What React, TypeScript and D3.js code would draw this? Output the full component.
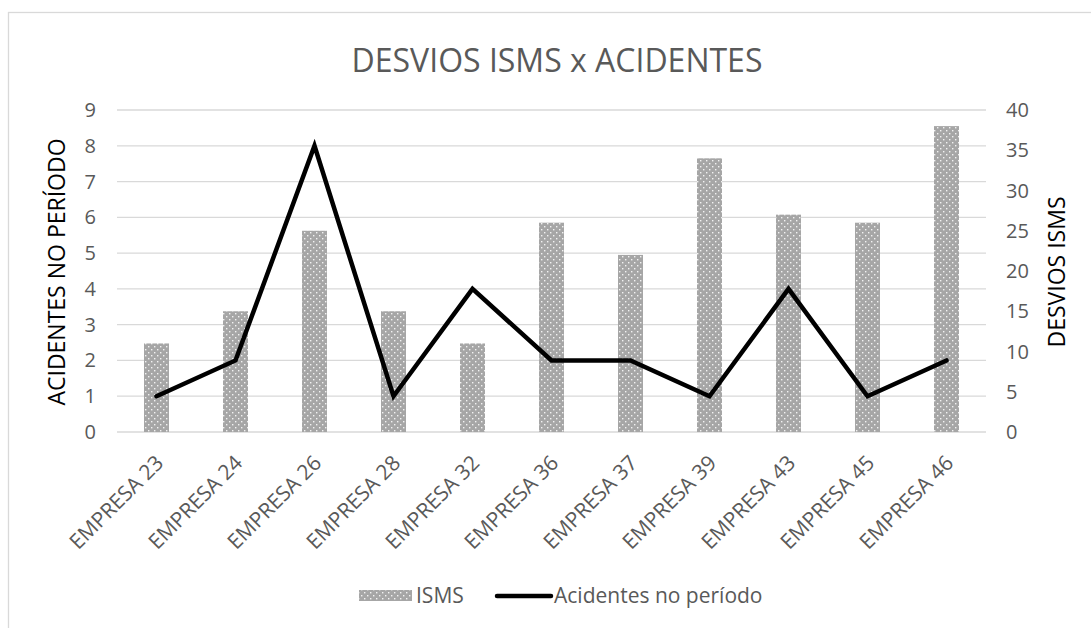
import React, { useRef, useEffect } from 'react';
import * as d3 from 'd3';

const categories = [
  'EMPRESA 23', 'EMPRESA 24', 'EMPRESA 26', 'EMPRESA 28', 'EMPRESA 32', 'EMPRESA 36',
  'EMPRESA 37', 'EMPRESA 39', 'EMPRESA 43', 'EMPRESA 45', 'EMPRESA 46',
];
const ismsValues = [11, 15, 25, 15, 11, 26, 22, 34, 27, 26, 38];
const acidentesValues = [1, 2, 8, 1, 4, 2, 2, 1, 4, 1, 2];
const leftTicks = [0, 1, 2, 3, 4, 5, 6, 7, 8, 9];
const rightTicks = [0, 5, 10, 15, 20, 25, 30, 35, 40];

const W = 1091;
const H = 628;
const plot = { left: 117, right: 986, top: 110, bottom: 432 };
const textColor = '#595959';
const gridColor = '#d9d9d9';
const font = "'Open Sans', sans-serif";

const draw = (el: SVGGElement) => {
  const g = d3.select(el);
  g.selectAll('*').remove();

  const x = d3.scaleBand<string>().domain(categories).range([plot.left, plot.right]);
  const yLeft = d3.scaleLinear().domain([0, 9]).range([plot.bottom, plot.top]);
  const yRight = d3.scaleLinear().domain([0, 40]).range([plot.bottom, plot.top]);
  const barWidth = 25;

  // grid
  g.append('g').selectAll('line').data(leftTicks).join('line')
    .attr('x1', plot.left).attr('x2', plot.right)
    .attr('y1', d => yLeft(d)).attr('y2', d => yLeft(d))
    .attr('stroke', gridColor).attr('stroke-width', 1.3);

  // left axis labels
  g.append('g').selectAll('text').data(leftTicks).join('text')
    .attr('x', 96).attr('y', d => yLeft(d))
    .attr('dy', '0.35em').attr('text-anchor', 'end')
    .attr('fill', textColor).attr('font-size', 20).attr('font-family', font)
    .text(d => d);

  // right axis labels
  g.append('g').selectAll('text').data(rightTicks).join('text')
    .attr('x', 1006).attr('y', d => yRight(d))
    .attr('dy', '0.35em').attr('text-anchor', 'start')
    .attr('fill', textColor).attr('font-size', 20).attr('font-family', font)
    .text(d => d);

  // bars
  g.append('g').selectAll('rect').data(ismsValues).join('rect')
    .attr('x', (d, i) => x(categories[i])! + x.bandwidth() / 2 - barWidth / 2)
    .attr('y', d => yRight(d))
    .attr('width', barWidth)
    .attr('height', d => plot.bottom - yRight(d))
    .attr('fill', 'url(#dots)');

  // x axis labels, rotated
  g.append('g').selectAll('text').data(categories).join('text')
    .attr('transform', d => `translate(${x(d)! + x.bandwidth() / 2 + 3},${plot.bottom + 27}) rotate(-45)`)
    .attr('text-anchor', 'end').attr('dy', '0.35em')
    .attr('fill', textColor).attr('font-size', 21).attr('font-family', font)
    .text(d => d);

  // line
  const line = d3.line<number>()
    .x((d, i) => x(categories[i])! + x.bandwidth() / 2)
    .y(d => yLeft(d));
  g.append('path').datum(acidentesValues)
    .attr('d', line)
    .attr('fill', 'none').attr('stroke', '#000').attr('stroke-width', 4.5)
    .attr('stroke-linejoin', 'miter').attr('stroke-linecap', 'round');

  // axis titles
  g.append('text')
    .attr('transform', 'translate(57,272) rotate(-90)')
    .attr('text-anchor', 'middle').attr('dy', '0.35em')
    .attr('fill', '#000').attr('font-size', 23).attr('font-family', font)
    .text('ACIDENTES NO PERÍODO');
  g.append('text')
    .attr('transform', 'translate(1057,272) rotate(-90)')
    .attr('text-anchor', 'middle').attr('dy', '0.35em')
    .attr('fill', '#000').attr('font-size', 23).attr('font-family', font)
    .text('DESVIOS ISMS');

  // title
  g.append('text')
    .attr('x', 557).attr('y', 72)
    .attr('text-anchor', 'middle')
    .attr('fill', textColor).attr('font-size', 32).attr('font-family', font)
    .text('DESVIOS ISMS x ACIDENTES');

  // legend
  const lg = g.append('g').attr('font-family', font).attr('font-size', 21).attr('fill', textColor);
  lg.append('rect').attr('x', 359).attr('y', 590).attr('width', 53).attr('height', 11).attr('fill', 'url(#dots)');
  lg.append('text').attr('x', 416).attr('y', 596).attr('dy', '0.35em').text('ISMS');
  lg.append('line').attr('x1', 497).attr('x2', 551).attr('y1', 596).attr('y2', 596)
    .attr('stroke', '#000').attr('stroke-width', 4.5).attr('stroke-linecap', 'round');
  lg.append('text').attr('x', 554).attr('y', 596).attr('dy', '0.35em').text('Acidentes no período');
};

const App = () => {
  const ref = useRef<SVGGElement>(null);

  useEffect(() => {
    if (ref.current) draw(ref.current);
  }, []);

  return (
    <svg width={W} height={H} style={{ position: 'absolute', left: 0, top: 0, background: '#fff' }}>
      <defs>
        <pattern id="dots" width={6} height={6} patternUnits="userSpaceOnUse">
          <rect width={6} height={6} fill="#a6a6a6" />
          <rect x={1} y={1} width={1.4} height={1.4} fill="#f2f2f2" />
          <rect x={4} y={4} width={1.4} height={1.4} fill="#f2f2f2" />
        </pattern>
      </defs>
      <rect x={8.5} y={12.5} width={W + 10} height={H + 10} fill="#fff" stroke={gridColor} strokeWidth={1.3} />
      <g ref={ref} />
    </svg>
  );
};

export default App;
